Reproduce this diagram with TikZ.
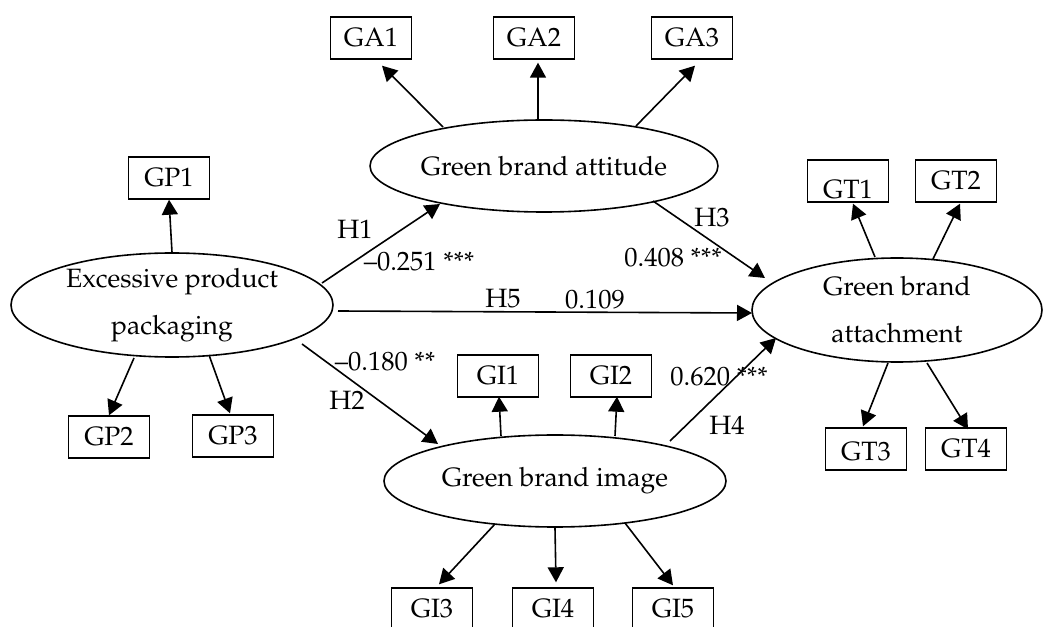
\documentclass[tikz,border=0pt]{standalone}
\usepackage[T1]{fontenc}
\usepackage{mathpazo}
\usetikzlibrary{shapes.geometric,arrows.meta,calc}
\begin{document}
\begin{tikzpicture}[x=0.5bp,y=-0.5bp,
  every node/.style={font=\fontsize{13.3}{23.5}\selectfont, inner sep=0pt},
  latent/.style={ellipse, draw, line width=0.8bp, align=center},
  item/.style={rectangle, draw, line width=0.7bp, minimum width=40.5bp, minimum height=21bp},
  arr/.style={line width=0.8bp, -{Triangle[length=7.5bp,width=8bp]}},
  lbl/.style={}]
\useasboundingbox (0,0) rectangle (1046,627);
\clip (0,0) rectangle (1046,627);

% latent constructs
\node[latent, minimum width=161bp, minimum height=52bp] (epp) at (172,305)
  {Excessive product\\packaging};
\node[latent, minimum width=173bp, minimum height=46bp] (gba) at (544,166)
  {Green brand attitude};
\node[latent, minimum width=171bp, minimum height=46bp] (gbi) at (555,481)
  {Green brand image};
\node[latent, minimum width=145bp, minimum height=52bp] (gbt) at (897,310)
  {Green brand\\attachment};

% observed indicators
\node[item] (gp1) at (169,178) {GP1};
\node[item] (gp2) at (109,437) {GP2};
\node[item] (gp3) at (233,436) {GP3};
\node[item] (ga1) at (371,38) {GA1};
\node[item] (ga2) at (534,38) {GA2};
\node[item] (ga3) at (692,38) {GA3};
\node[item] (gt1) at (848,181) {\raisebox{-4.5bp}[\height][\depth]{GT1}};
\node[item] (gt2) at (956,181) {GT2};
\node[item] (gt3) at (866,449) {\raisebox{-1.5bp}[\height][\depth]{GT3}};
\node[item] (gt4) at (966,449) {GT4};
\node[item] (gi1) at (498,376) {GI1};
\node[item] (gi2) at (611,376) {GI2};
\node[item] (gi3) at (432,609) {GI3};
\node[item] (gi4) at (553,609) {GI4};
\node[item] (gi5) at (673,609) {GI5};

% measurement arrows
\draw[arr] (epp.north) -- (gp1.south);
\draw[arr] ($(epp.center)+(-38,53)$) -- (gp2.north);
\draw[arr] ($(epp.center)+(37,50)$) -- ($(gp3.north)+(-3,-1)$);
\draw[arr] ($(gba.center)+(-101,-39)$) -- ($(ga1.south)+(11,6)$);
\draw[arr] ($(gba.center)+(-6,-45)$) -- ($(ga2.south)+(4,3)$);
\draw[arr] ($(gba.center)+(92,-40)$) -- ($(ga3.south)+(3,6)$);
\draw[arr] ($(gbt.center)+(-22,-53)$) -- ($(gt1.south)+(5,1)$);
\draw[arr] ($(gbt.center)+(36,-51)$) -- ($(gt2.south)+(4,1)$);
\draw[arr] ($(gbt.center)+(-9,53)$) -- ($(gt3.north)+(-3,-1)$);
\draw[arr] ($(gbt.center)+(30,53)$) -- ($(gt4.north)+(2,2)$);
\draw[arr] ($(gbi.center)+(-54,-45)$) -- ($(gi1.south)+(1,-1)$);
\draw[arr] ($(gbi.center)+(60,-45)$) -- ($(gi2.south)+(6,-1)$);
\draw[arr] ($(gbi.center)+(-60,43)$) -- ($(gi3.north)+(7,-3)$);
\draw[arr] (gbi.south) -- ($(gi4.north)+(3,-5)$);
\draw[arr] ($(gbi.center)+(70,42)$) -- ($(gi5.north)+(0,-2)$);

% structural paths
\draw[arr] ($(epp.center)+(150,-22)$) -- ($(gba.center)+(-104,38)$);
\draw[arr] ($(epp.center)+(166,6)$) -- ($(gbt.center)+(-145,3)$);
\draw[arr] ($(epp.center)+(130,39)$) -- ($(gbi.center)+(-117,-37)$);
\draw[arr] ($(gba.center)+(109,35)$) -- ($(gbt.center)+(-132,-32)$);
\draw[arr] ($(gbi.center)+(115,-40)$) -- ($(gbt.center)+(-121,28)$);

% path labels
\node[lbl] (h1) at (355,229) {H1};
\node[lbl] (c1) at (419,262) {--0.251 ***};
\node[lbl] (h5) at (503,299) {H5};
\node[lbl] (c5) at (595,300) {0.109};
\node[lbl] (c2) at (385,362) {--0.180 **};
\node[lbl] (h2) at (347,400) {H2};
\node[lbl] (h3) at (712,218) {H3};
\node[lbl] (c3) at (673,258) {0.408 ***};
\node[lbl] (c4) at (719,377) {0.620 ***};
\node[lbl] (h4) at (727,425) {H4};
\end{tikzpicture}
\end{document}
